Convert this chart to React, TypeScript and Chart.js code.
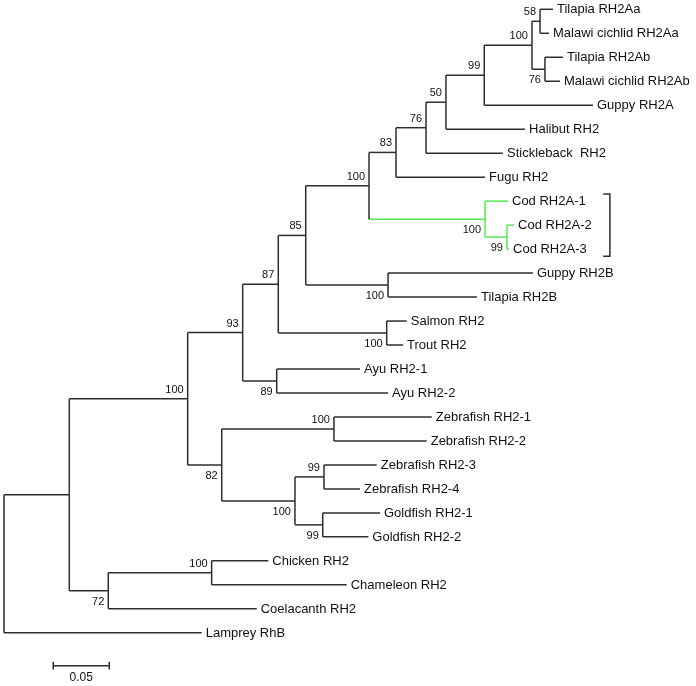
import React, { useEffect, useRef } from "react";
import { Chart, registerables } from "chart.js";

Chart.register(...registerables);

// ---- Tree data ----
const leafNames = [
  "Tilapia RH2Aa",
  "Malawi cichlid RH2Aa",
  "Tilapia RH2Ab",
  "Malawi cichlid RH2Ab",
  "Guppy RH2A",
  "Halibut RH2",
  "Stickleback  RH2",
  "Fugu RH2",
  "Cod RH2A-1",
  "Cod RH2A-2",
  "Cod RH2A-3",
  "Guppy RH2B",
  "Tilapia RH2B",
  "Salmon RH2",
  "Trout RH2",
  "Ayu RH2-1",
  "Ayu RH2-2",
  "Zebrafish RH2-1",
  "Zebrafish RH2-2",
  "Zebrafish RH2-3",
  "Zebrafish RH2-4",
  "Goldfish RH2-1",
  "Goldfish RH2-2",
  "Chicken RH2",
  "Chameleon RH2",
  "Coelacanth RH2",
  "Lamprey RhB",
];
// parent internal node of every leaf
const leafParent = [12, 12, 13, 13, 10, 9, 8, 7, 14, 15, 15, 16, 16, 17, 17, 18, 18, 20, 20, 22, 22, 23, 23, 25, 25, 24, 0];
// cumulative distance from the root (substitutions/site)
const leafDepth = [
  0.4902, 0.4866, 0.4991, 0.4964, 0.5259, 0.4652, 0.4455, 0.4295, 0.45, 0.4554, 0.4509, 0.4723, 0.4223,
  0.3596, 0.3563, 0.3179, 0.3429, 0.3819, 0.3774, 0.3328, 0.3179, 0.3357, 0.3253, 0.236, 0.306, 0.2256, 0.1765,
];
// internal nodes
const nodeParent = [-1, 0, 1, 2, 3, 4, 5, 6, 7, 8, 9, 10, 11, 11, 6, 14, 5, 4, 3, 2, 19, 19, 21, 21, 1, 24];
const nodeDepth = [
  0, 0.0583, 0.164, 0.2131, 0.2449, 0.2694, 0.3259, 0.35, 0.3768, 0.3946, 0.4288, 0.4714, 0.4786, 0.483,
  0.4295, 0.4491, 0.3429, 0.3417, 0.2435, 0.1944, 0.2946, 0.2598, 0.2857, 0.2846, 0.0931, 0.1854,
];
const nodeBootstrap: (number | null)[] = [
  null, null, 100, 93, 87, 85, 100, 83, 76, 50, 99, 100, 58, 76, 100, 99, 100, 100, 89, 82, 100, 100, 99, 99, 72, 100,
];
// highlighted clade (Cod RH2A)
const greenNodes = [14, 15];
const greenLeaves = [8, 9, 10];
const bracketLeaves = [8, 10];
const scaleBarValue = 0.05;
const scaleBarLabel = "0.05";

const DARK = "#2e2e2e";
const GREEN = "#55ea55";

export default function App() {
  const ref = useRef<HTMLCanvasElement | null>(null);

  useEffect(() => {
    document.body.style.margin = "0";
    const canvas = ref.current;
    if (!canvas) return;

    // compute y of every node
    const nN = nodeParent.length;
    const children: { type: "leaf" | "node"; idx: number }[][] = Array.from({ length: nN }, () => []);
    leafParent.forEach((p, i) => children[p].push({ type: "leaf", idx: i }));
    nodeParent.forEach((p, i) => {
      if (p >= 0) children[p].push({ type: "node", idx: i });
    });
    const nodeY: number[] = new Array(nN).fill(NaN);
    const getY = (c: { type: string; idx: number }): number =>
      c.type === "leaf" ? c.idx : computeNode(c.idx);
    function computeNode(n: number): number {
      if (!isNaN(nodeY[n])) return nodeY[n];
      const ys = children[n].map(getY);
      nodeY[n] = (Math.min(...ys) + Math.max(...ys)) / 2;
      return nodeY[n];
    }
    for (let i = 0; i < nN; i++) computeNode(i);

    const datasets: any[] = [];
    const seg = (pts: { x: number; y: number }[], color: string) =>
      datasets.push({
        data: pts,
        showLine: true,
        borderColor: color,
        borderWidth: 1.5,
        pointRadius: 0,
        fill: false,
        tension: 0,
      });

    // vertical connectors
    for (let n = 0; n < nN; n++) {
      const ys = children[n].map(getY);
      const col = greenNodes.includes(n) ? GREEN : DARK;
      seg(
        [
          { x: nodeDepth[n], y: Math.min(...ys) },
          { x: nodeDepth[n], y: Math.max(...ys) },
        ],
        col
      );
    }
    // horizontal branches of internal nodes
    for (let n = 0; n < nN; n++) {
      const p = nodeParent[n];
      if (p < 0) continue;
      const col = greenNodes.includes(n) ? GREEN : DARK;
      seg(
        [
          { x: nodeDepth[p], y: nodeY[n] },
          { x: nodeDepth[n], y: nodeY[n] },
        ],
        col
      );
    }
    // leaf branches
    leafNames.forEach((_, i) => {
      const col = greenLeaves.includes(i) ? GREEN : DARK;
      seg(
        [
          { x: nodeDepth[leafParent[i]], y: i },
          { x: leafDepth[i], y: i },
        ],
        col
      );
    });
    // bracket
    const bx = 0.541;
    const bt = 0.535;
    const b0 = bracketLeaves[0] - 0.3;
    const b1 = bracketLeaves[1] + 0.3;
    seg(
      [
        { x: bt, y: b0 },
        { x: bx, y: b0 },
        { x: bx, y: b1 },
        { x: bt, y: b1 },
      ],
      DARK
    );
    // scale bar
    const sx0 = 0.044;
    const sy = 27.37;
    seg(
      [
        { x: sx0, y: sy },
        { x: sx0 + scaleBarValue, y: sy },
      ],
      DARK
    );
    seg(
      [
        { x: sx0, y: sy - 0.16 },
        { x: sx0, y: sy + 0.16 },
      ],
      DARK
    );
    seg(
      [
        { x: sx0 + scaleBarValue, y: sy - 0.16 },
        { x: sx0 + scaleBarValue, y: sy + 0.16 },
      ],
      DARK
    );

    const labelPlugin = {
      id: "treeLabels",
      afterDatasetsDraw(chart: any) {
        const ctx = chart.ctx;
        const xs = chart.scales.x;
        const ysc = chart.scales.y;
        ctx.save();
        ctx.fillStyle = "#111";
        ctx.textBaseline = "middle";
        ctx.font = "13px 'Liberation Sans', Arial, sans-serif";
        ctx.textAlign = "left";
        leafNames.forEach((name, i) => {
          ctx.fillText(name, xs.getPixelForValue(leafDepth[i]) + 4, ysc.getPixelForValue(i) + 0.5);
        });
        ctx.font = "11px 'Liberation Sans', Arial, sans-serif";
        ctx.textAlign = "right";
        for (let n = 0; n < nN; n++) {
          const b = nodeBootstrap[n];
          if (b == null) continue;
          const p = nodeParent[n];
          const above = p < 0 || nodeY[n] < nodeY[p];
          const px = xs.getPixelForValue(nodeDepth[n]) - 4;
          const py = ysc.getPixelForValue(nodeY[n]) + (above ? -9 : 11);
          ctx.fillText(String(b), px, py);
        }
        ctx.textAlign = "center";
        ctx.font = "12px 'Liberation Sans', Arial, sans-serif";
        ctx.fillText(
          scaleBarLabel,
          xs.getPixelForValue(sx0 + scaleBarValue / 2),
          ysc.getPixelForValue(sy) + 12.5
        );
        ctx.restore();
      },
    };

    const chart = new Chart(canvas, {
      type: "scatter",
      data: { datasets },
      options: {
        animation: false,
        responsive: false,
        maintainAspectRatio: false,
        events: [],
        layout: { padding: 0 },
        plugins: { legend: { display: false }, tooltip: { enabled: false } },
        scales: {
          x: { type: "linear", display: false, min: -4 / 1120, max: 692 / 1120 },
          y: { type: "linear", display: false, reverse: true, min: -9.3 / 23.98, max: (686 - 9.3) / 23.98 },
        },
      },
      plugins: [labelPlugin],
    } as any);

    return () => chart.destroy();
  }, []);

  return (
    <div style={{ width: 696, height: 686, background: "#fff" }}>
      <canvas ref={ref} width={696} height={686} style={{ width: 696, height: 686, display: "block" }} />
    </div>
  );
}
